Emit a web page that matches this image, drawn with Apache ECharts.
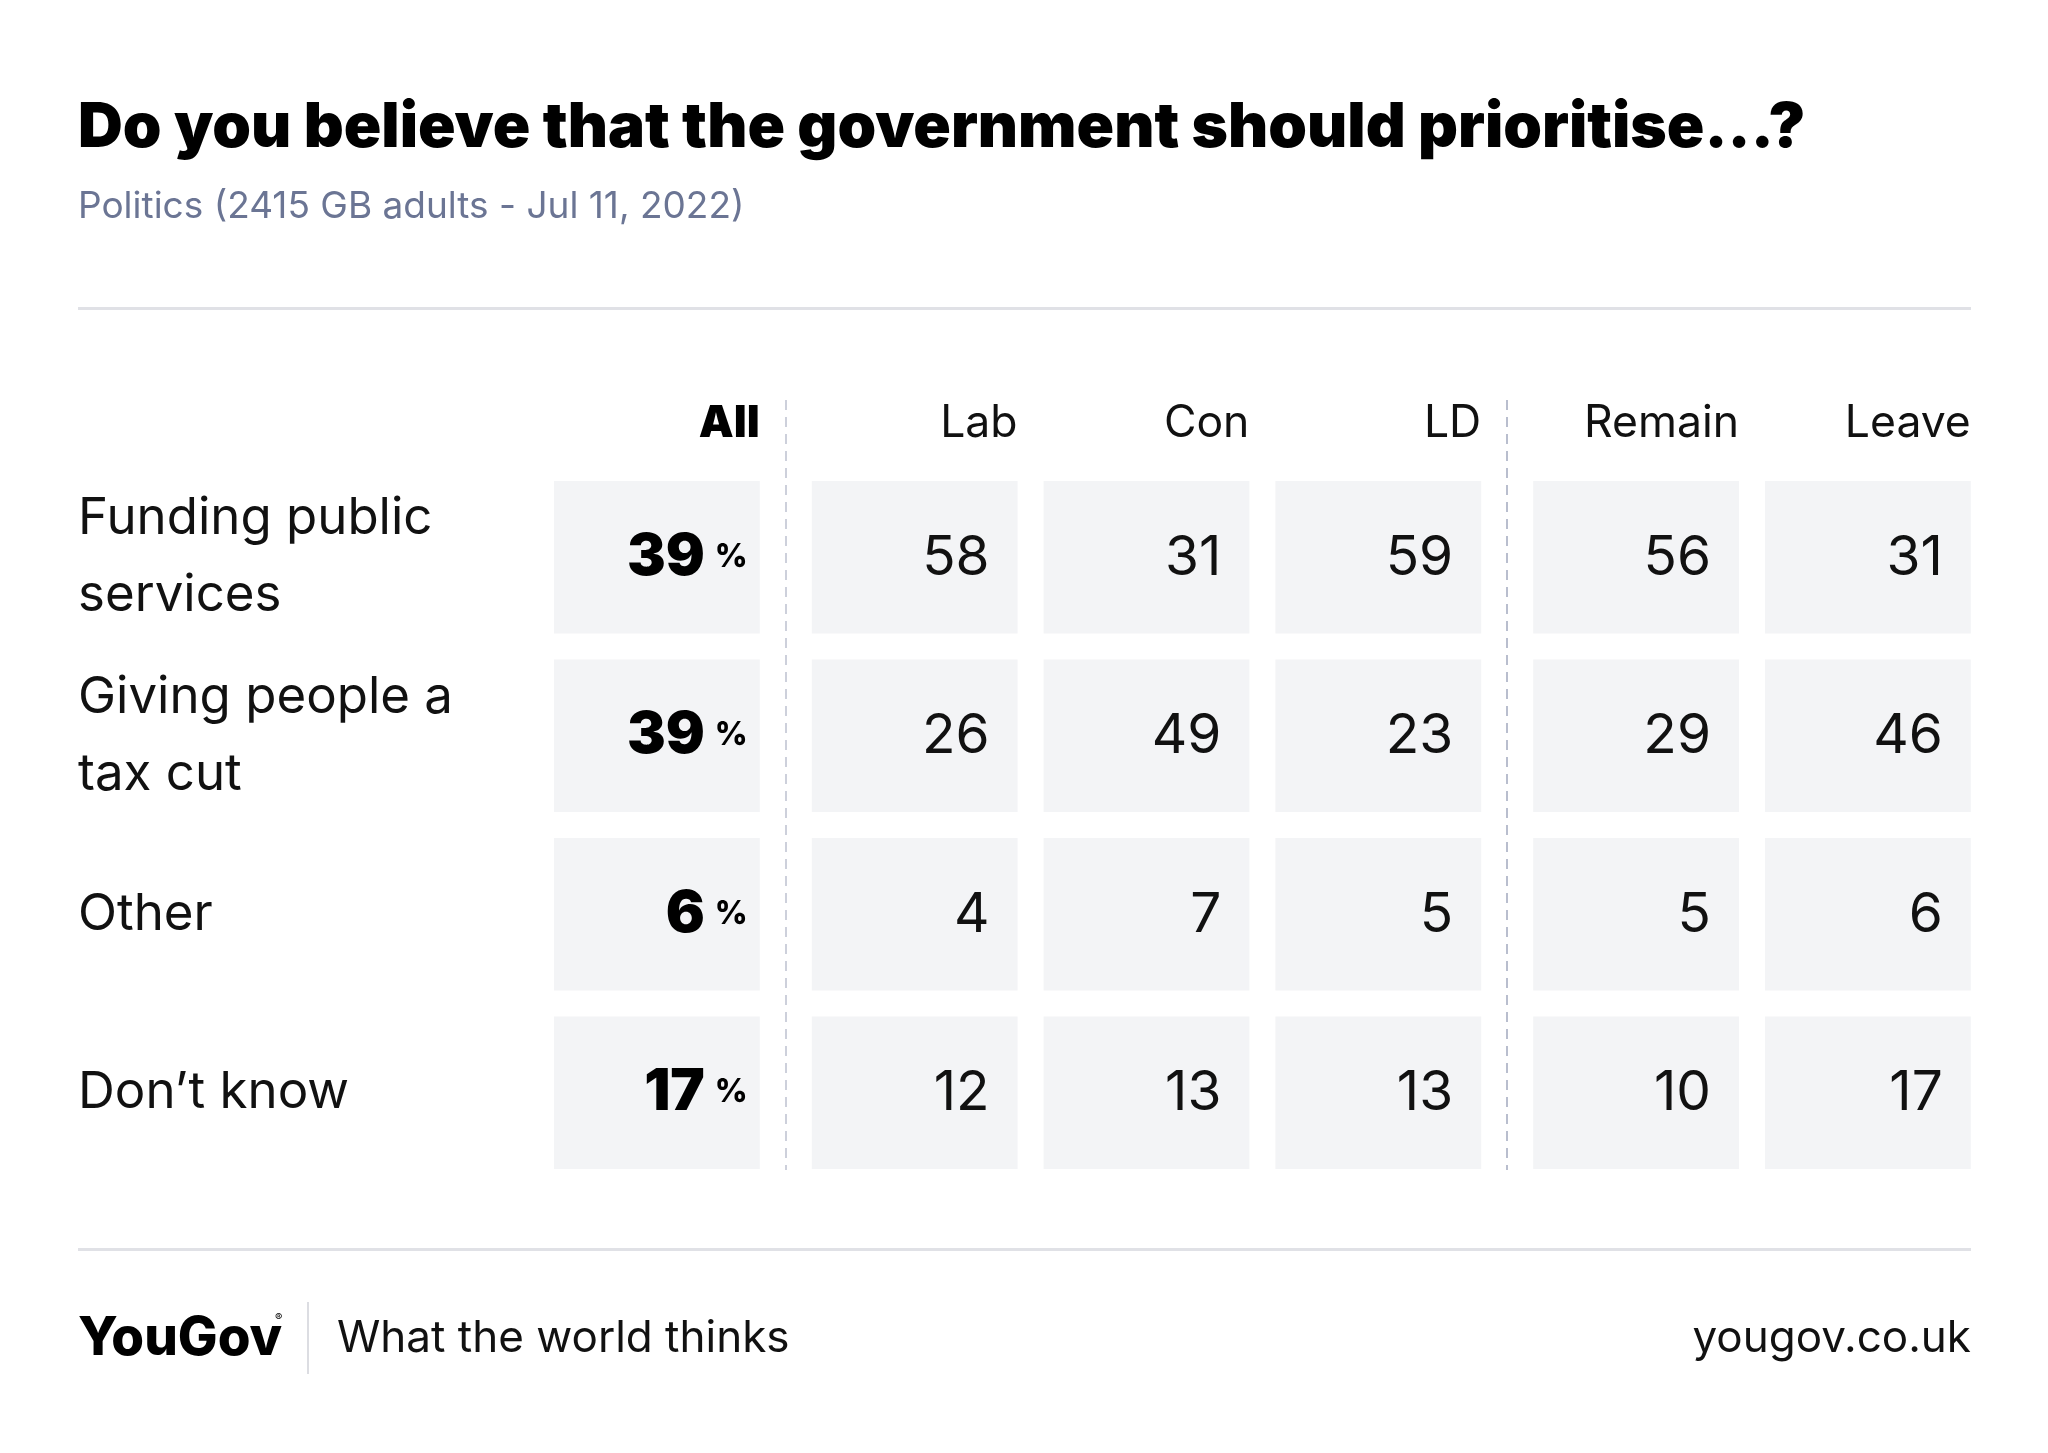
<!DOCTYPE html>
<html>
<head>
<meta charset="utf-8">
<script src="https://cdn.jsdelivr.net/npm/echarts@6/dist/echarts.min.js"></script>
<style>
  html, body { margin: 0; padding: 0; background: #ffffff; }
  #chart { width: 2048px; height: 1453px; }
</style>
</head>
<body>
<div id="chart"></div>
<script>
// ---- data ----
const titleText = 'Do you believe that the government should prioritise...?';
const subtitleText = 'Politics (2415 GB adults - Jul 11, 2022)';
const rowLabels = ['Funding public\nservices', 'Giving people a\ntax cut', 'Other', 'Don\u2019t know'];
const groupAll = ['All'];
const groupParty = ['Lab', 'Con', 'LD'];
const groupBrexit = ['Remain', 'Leave'];
const allValues = [39, 39, 6, 17];
const labValues = [58, 26, 4, 12];
const conValues = [31, 49, 7, 13];
const ldValues = [59, 23, 5, 13];
const remainValues = [56, 29, 5, 10];
const leaveValues = [31, 46, 6, 17];

// ---- layout / style ----
const FONT = 'Inter, "Noto Sans", sans-serif';
const CELL = '#f3f4f6';
const GAP = 26;
const BAND_W = 231.8;
const TOP = 468, HEIGHT = 714;
const grids = [
  { left: 541, width: BAND_W * 1 },
  { left: 798.8, width: BAND_W * 3 },
  { left: 1520.2, width: BAND_W * 2 }
];
const groups = [groupAll, groupParty, groupBrexit];
const groupValues = [[allValues], [labValues, conValues, ldValues], [remainValues, leaveValues]];

function buildData(cols) {
  const out = [];
  cols.forEach((vals, ci) => vals.forEach((v, ri) => out.push([ci, ri, v])));
  return out;
}

function renderCell(isAll) {
  return function (params, api) {
    const c = api.coord([api.value(0), api.value(1)]);
    const s = api.size([1, 1]);
    const w = s[0] - GAP, h = s[1] - GAP;
    const v = api.value(2);
    const right = c[0] + w / 2;
    const text = isAll
      ? { type: 'text', style: { text: '{b|' + v + '}{p|%}', x: right - 12, y: c[1], align: 'right', verticalAlign: 'middle',
          rich: { b: { fontFamily: FONT, fontWeight: 900, fontSize: 58, fill: '#000', padding: [0, 10, 0, 0] },
                  p: { fontFamily: FONT, fontWeight: 800, fontSize: 32, fill: '#000' } } } }
      : { type: 'text', style: { text: String(v), x: right - 28, y: c[1] + 1, align: 'right', verticalAlign: 'middle',
          font: '400 55px ' + FONT, fill: '#111' } };
    return { type: 'group', children: [
      { type: 'rect', shape: { x: c[0] - w / 2, y: c[1] - h / 2, width: w, height: h }, style: { fill: CELL } },
      text
    ] };
  };
}

const option = {
  backgroundColor: '#ffffff',
  animation: false,
  grid: grids.map(g => ({ left: g.left, width: g.width, top: TOP, height: HEIGHT })),
  xAxis: groups.map((cats, i) => ({
    type: 'category', gridIndex: i, data: cats, position: 'top',
    axisLine: { show: false }, axisTick: { show: false }, splitLine: { show: false },
    axisLabel: {
      margin: 44, verticalAlign: 'middle', interval: 0,
      formatter: v => (i === 0 ? '{h|' + v + '}' : '{n|' + v + '}'),
      rich: {
        h: { width: BAND_W - GAP, align: 'right', fontFamily: FONT, fontWeight: 900, fontSize: 44, color: '#000' },
        n: { width: BAND_W - GAP, align: 'right', fontFamily: FONT, fontWeight: 400, fontSize: 44.5, color: '#111' }
      }
    }
  })),
  yAxis: groups.map((cats, i) => ({
    type: 'category', gridIndex: i, data: rowLabels, inverse: true,
    axisLine: { show: false }, axisTick: { show: false }, splitLine: { show: false },
    axisLabel: i === 0 ? {
      show: true, align: 'left', margin: 541 - 78, interval: 0,
      fontFamily: FONT, fontSize: 51, lineHeight: 77, color: '#111'
    } : { show: false }
  })),
  series: groups.map((cats, i) => ({
    type: 'custom', xAxisIndex: i, yAxisIndex: i,
    encode: { x: 0, y: 1 },
    data: buildData(groupValues[i]),
    renderItem: renderCell(i === 0)
  })),
  graphic: [
    { type: 'text', x: 78, y: 128, style: { text: titleText, font: '900 62px ' + FONT, fill: '#000', verticalAlign: 'middle' } },
    { type: 'text', x: 78, y: 207, style: { text: subtitleText, font: '400 37px ' + FONT, fill: '#6b7594', verticalAlign: 'middle' } },
    { type: 'rect', shape: { x: 78, y: 307, width: 1893, height: 3 }, style: { fill: '#e0e1e6' } },
    { type: 'rect', shape: { x: 78, y: 1248, width: 1893, height: 3 }, style: { fill: '#e0e1e6' } },
    { type: 'line', shape: { x1: 786, y1: 400, x2: 786, y2: 1170 }, style: { stroke: '#cdd0db', lineWidth: 2, lineDash: [10, 7] } },
    { type: 'line', shape: { x1: 1507, y1: 400, x2: 1507, y2: 1170 }, style: { stroke: '#b9bece', lineWidth: 2, lineDash: [10, 7] } },
    { type: 'text', x: 78, y: 1339, style: { text: 'YouGov', font: '800 53px ' + FONT, fill: '#000', verticalAlign: 'middle', letterSpacing: -2.5 } },
    { type: 'text', x: 275, y: 1318, style: { text: '\u00AE', font: '400 11px ' + FONT, fill: '#000', verticalAlign: 'middle' } },
    { type: 'rect', shape: { x: 307, y: 1302, width: 2, height: 72 }, style: { fill: '#dcdde2' } },
    { type: 'text', x: 337, y: 1339, style: { text: 'What the world thinks', font: '400 44px ' + FONT, fill: '#111', verticalAlign: 'middle' } },
    { type: 'text', x: 1971, y: 1339, style: { text: 'yougov.co.uk', font: '400 44px ' + FONT, fill: '#111', align: 'right', verticalAlign: 'middle' } }
  ]
};

const chart = echarts.init(document.getElementById('chart'), null, { renderer: 'canvas' });
chart.setOption(option);
</script>
</body>
</html>
